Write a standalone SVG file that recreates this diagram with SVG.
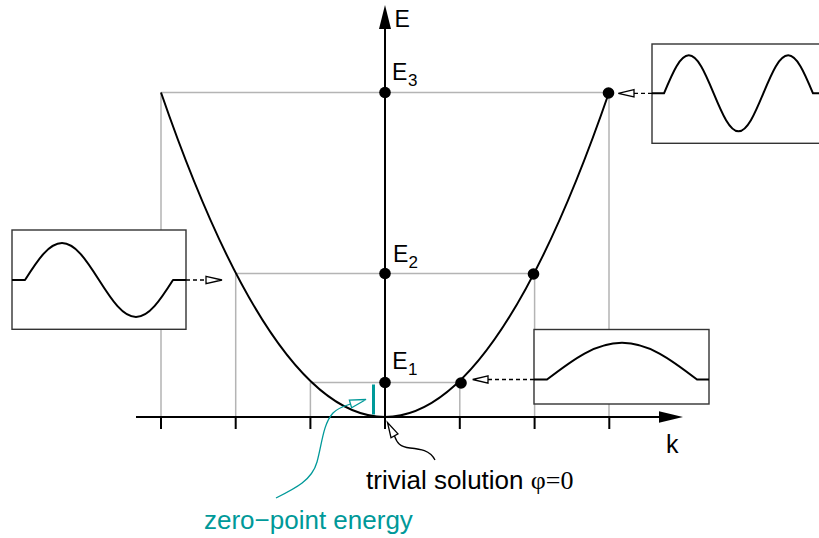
<svg xmlns="http://www.w3.org/2000/svg" width="819" height="538" viewBox="0 0 819 538">
<style>
.grid{stroke:#b4b4b4;stroke-width:1.5;fill:none}
.ax{stroke:#000;stroke-width:2;fill:none}
.curve{stroke:#000;stroke-width:2;fill:none}
.box{fill:#fff;stroke:#333;stroke-width:1.4}
.wave{stroke:#000;stroke-width:2;fill:none;stroke-linejoin:round}
.dash{stroke:#000;stroke-width:1.3;fill:none;stroke-dasharray:4 3}
.open{fill:#fff;stroke:#000;stroke-width:1.3}
.dot{fill:#000}
.lbl{font-family:"Liberation Sans",Arial,sans-serif;fill:#000}
.teal{stroke:#009999;fill:none;stroke-width:1.3}
</style>
<rect width="819" height="538" fill="#fff"/>
<g id="grid" class="grid">
<path d="M161,92.5H609M161,92.5V417M609,92.5V417"/>
<path d="M235.7,273.5H534.6M235.7,273.5V417M534.6,273.5V417"/>
<path d="M310.4,382.5H459.8M310.4,382.5V417M459.8,382.5V417"/>
</g>
<g id="axes">
<path class="ax" d="M136,417H660"/>
<polygon points="659,411.2 683,417 659,422.8" fill="#000"/>
<path class="ax" d="M385,429V28"/>
<polygon points="379,29 385,5 391,29" fill="#000"/>
<path class="ax" d="M161,417V429M235.7,417V429M310.4,417V429M459.8,417V429M534.6,417V429M609.3,417V429"/>
</g>
<g id="parabola">
<path class="curve" d="M161,92.5Q385,741.5 609,92.5"/>
</g>
<g id="zero-point-bar">
<path d="M373.5,384.5V414.5" stroke="#009999" stroke-width="3"/>
</g>
<g id="dots" class="dot">
<circle cx="385" cy="92.5" r="5.8"/>
<circle cx="608.5" cy="93" r="5.8"/>
<circle cx="385" cy="273.5" r="5.8"/>
<circle cx="533.5" cy="274" r="5.8"/>
<circle cx="385" cy="382.5" r="5.8"/>
<circle cx="461" cy="383" r="5.8"/>
</g>
<g id="box-n2">
<rect class="box" x="12" y="230" width="174" height="99.3"/>
<path class="wave" d="M12,280H25C38,259.56 49,243 62,243C75,243 86,259.56 99,280C112,300.44 123,317 136,317C149,317 160,300.44 173,280H186"/>
</g>
<g id="box-n1">
<rect class="box" x="534" y="329.5" width="175" height="74.5"/>
<path class="wave" d="M534,379.5H547C573.4,359.2 595.6,342.8 622,342.8C648.4,342.8 670.6,359.2 697,379.5H709"/>
</g>
<g id="box-n3">
<rect class="box" x="652" y="44" width="200" height="99.3"/>
<path class="wave" d="M652,93.3H664C672.73,72.31 680.1,55.3 688.83,55.3C697.56,55.3 704.93,72.31 713.67,93.3C722.4,114.29 729.77,131.3 738.5,131.3C747.23,131.3 754.6,114.29 763.33,93.3C772.06,72.31 779.43,55.3 788.17,55.3C796.9,55.3 804.27,72.31 813,93.3H822"/>
</g>
<g id="connectors">
<path class="dash" d="M186,280H206"/>
<polygon class="open" points="206,276.3 222,280 206,283.7"/>
<path class="dash" d="M652,93.3H634"/>
<polygon class="open" points="634,89.6 618.3,93.3 634,97"/>
<path class="dash" d="M534,379.5H488"/>
<polygon class="open" points="488,375.8 472.7,379.5 488,383.2"/>
<path class="curve" style="stroke-width:1.3" d="M435,460C430,450 420,449 410,448C400,447 397,443 394.5,436"/>
<polygon class="open" points="398,433.9 387.5,422.5 391,437.7"/>
<path class="teal" d="M276,498C296,488 312,480 317,462C322,444 323,424 333,413C338,408 344,406 350.5,404"/>
<polygon points="351.6,407.8 366,399.5 349.4,400.2" fill="#fff" stroke="#009999" stroke-width="1.3"/>
</g>
<g id="labels" class="lbl">
<text x="394.5" y="26.7" font-size="23">E</text>
<text x="392" y="80" font-size="23">E<tspan x="408" y="86" font-size="17">3</tspan></text>
<text x="393" y="262" font-size="23">E<tspan x="408.5" y="268" font-size="17">2</tspan></text>
<text x="392.3" y="368.5" font-size="23">E<tspan x="408" y="375" font-size="17">1</tspan></text>
<text x="666" y="453" font-size="25">k</text>
<text x="366" y="489.3" font-size="26">trivial solution <tspan font-family="'Liberation Serif','Times New Roman',serif">φ=0</tspan></text>
<text x="204" y="529.3" font-size="26" fill="#009999">zero−point energy</text>
</g>
</svg>
